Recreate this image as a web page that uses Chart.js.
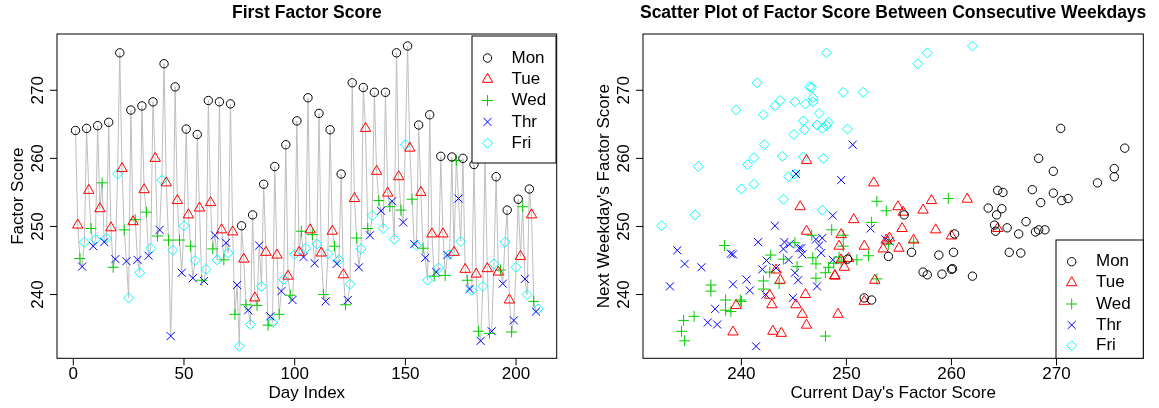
<!DOCTYPE html>
<html><head><meta charset="utf-8">
<script src="https://cdn.jsdelivr.net/npm/chart.js@4/dist/chart.umd.min.js"></script>
<style>
html,body{margin:0;padding:0;background:#fff;}
#wrap{position:relative;width:1159px;height:408px;overflow:hidden;}
#c1{position:absolute;left:0;top:0;}
#c2{position:absolute;left:580px;top:0;}
</style></head><body>
<div id="wrap"><canvas id="c1" width="580" height="408"></canvas><canvas id="c2" width="579" height="408"></canvas></div>
<script>
// ---- data: factor score per weekday, one value per week (42 weeks) ----
const weekdayNames = ['Mon','Tue','Wed','Thr','Fri'];
const mon = [264.1,264.4,264.8,265.3,275.5,267.1,267.7,268.3,273.9,270.5,264.3,263.5,268.5,268.3,268.0,250.1,251.7,256.2,258.8,262.0,265.5,268.9,266.6,264.2,257.7,271.1,270.4,269.7,269.7,275.5,276.5,264.9,266.4,260.3,260.2,260.0,259.1,260.1,257.3,252.4,254.0,255.5];
const tue = [250.2,255.3,252.6,249.8,258.5,250.7,255.4,260.0,256.4,253.8,251.7,252.7,253.5,249.5,249.2,245.2,239.5,246.2,245.8,242.7,246.2,249.5,246.1,249.3,242.9,254.1,264.4,258.1,254.9,257.3,261.5,255.0,248.9,248.9,246.2,243.7,243.0,243.8,243.3,239.2,245.6,251.7];
const wed = [245.3,249.7,256.4,244.0,249.5,251.0,252.1,248.6,248.0,248.0,247.1,242.1,246.7,245.1,237.1,238.5,238.4,235.5,237.1,239.9,249.3,248.8,240.0,247.1,238.5,248.3,249.7,253.8,252.9,252.4,254.0,246.8,242.7,242.8,259.7,242.1,234.6,234.3,243.6,234.5,252.9,239.0];
const thr = [244.1,247.1,247.7,245.2,244.9,245.1,245.7,249.5,233.9,243.2,242.4,242.0,248.7,247.6,241.4,237.7,247.2,236.8,240.5,239.2,245.5,244.6,239.0,244.5,239.2,244.0,248.7,252.3,253.7,250.6,247.4,245.4,243.3,245.8,254.1,240.8,233.2,234.6,241.6,236.2,242.3,237.5];
const fri = [247.7,248.1,248.3,257.7,239.5,243.2,246.8,256.8,246.5,250.1,245.0,243.7,245.1,246.1,232.4,235.6,241.2,235.9,242.2,245.9,246.8,247.4,246.0,245.1,241.5,246.7,251.6,249.7,248.1,262.0,247.2,242.1,243.9,245.9,247.8,240.6,241.2,244.5,247.7,244.0,240.0,237.9];
const dayTicks = [0,50,100,150,200];
const scoreTicks = [240,250,260,270];

const byDay = [mon,tue,wed,thr,fri];
const colors = ['#000000','#FF0000','#00CD00','#0000FF','#00FFFF'];
const styles = ['circle','triangle','cross','crossRot','rectRot'];
const radii = [4.2,6,5.5,5.7,5];

// daily series in time order
const series = [];
for (let w = 0; w < mon.length; w++) for (let d = 0; d < 5; d++) series.push(byDay[d][w]);

function extRange(vals){const mn=Math.min(...vals),mx=Math.max(...vals),r=mx-mn;return [mn-0.04*r,mx+0.04*r];}

const FONT = '"Liberation Sans", Arial, Helvetica, sans-serif';

function drawSym(ctx, style, x, y, r){
  ctx.beginPath();
  if (style==='circle'){ctx.arc(x,y,r,0,Math.PI*2);}
  else if (style==='triangle'){
    let a=0; ctx.moveTo(x+Math.sin(a)*r,y-Math.cos(a)*r);
    a+=2*Math.PI/3; ctx.lineTo(x+Math.sin(a)*r,y-Math.cos(a)*r);
    a+=2*Math.PI/3; ctx.lineTo(x+Math.sin(a)*r,y-Math.cos(a)*r); ctx.closePath();
  } else if (style==='cross'){ctx.moveTo(x,y-r);ctx.lineTo(x,y+r);ctx.moveTo(x-r,y);ctx.lineTo(x+r,y);}
  else if (style==='crossRot'){const o=Math.SQRT1_2*r;ctx.moveTo(x-o,y-o);ctx.lineTo(x+o,y+o);ctx.moveTo(x+o,y-o);ctx.lineTo(x-o,y+o);}
  else if (style==='rectRot'){ctx.moveTo(x-r,y);ctx.lineTo(x,y-r);ctx.lineTo(x+r,y);ctx.lineTo(x,y+r);ctx.closePath();}
  ctx.stroke();
}

const decor = {
  id:'decor',
  afterDraw(chart, args, o){
    const ctx=chart.ctx, a=chart.chartArea, xs=chart.scales.x, ys=chart.scales.y;
    ctx.save();
    ctx.strokeStyle='#000'; ctx.lineWidth=1; ctx.fillStyle='#000';
    ctx.strokeRect(a.left,a.top,a.right-a.left,a.bottom-a.top);
    ctx.font='17px '+FONT; ctx.textAlign='center'; ctx.textBaseline='middle';
    o.xticks.forEach(v=>{const p=xs.getPixelForValue(v);ctx.beginPath();ctx.moveTo(p,a.bottom);ctx.lineTo(p,a.bottom+7);ctx.stroke();ctx.fillText(String(v),p,a.bottom+16);});
    o.yticks.forEach(v=>{const p=ys.getPixelForValue(v);ctx.beginPath();ctx.moveTo(a.left-7,p);ctx.lineTo(a.left,p);ctx.stroke();
      ctx.save();ctx.translate(a.left-18.7,p);ctx.rotate(-Math.PI/2);ctx.fillText(String(v),0,0);ctx.restore();});
    const cx=(a.left+a.right)/2, cy=(a.top+a.bottom)/2;
    ctx.fillText(o.xlab,cx,a.bottom+35);
    ctx.save();ctx.translate(a.left-39,cy);ctx.rotate(-Math.PI/2);ctx.fillText(o.ylab,0,0);ctx.restore();
    ctx.font='bold 17.5px '+FONT; ctx.fillText(o.title,cx,o.titleY);
    // legend
    const L=o.legend;
    ctx.fillStyle='#fff'; ctx.fillRect(L.x0,L.y0,L.x1-L.x0,L.y1-L.y0);
    ctx.strokeStyle='#000'; ctx.strokeRect(L.x0,L.y0,L.x1-L.x0,L.y1-L.y0);
    ctx.font='17px '+FONT; ctx.textAlign='left';
    weekdayNames.forEach((n,i)=>{const y=L.rowY[i];ctx.strokeStyle=colors[i];ctx.lineWidth=1;drawSym(ctx,styles[i],L.symX,y,radii[i]);ctx.fillStyle='#000';ctx.fillText(n,L.textX,y);});
    ctx.restore();
  }
};

const baseOpts = (rx, ry, pad, dec) => ({
  responsive:false, animation:false, devicePixelRatio:1, events:[],
  layout:{padding:pad},
  scales:{x:{type:'linear',display:false,min:rx[0],max:rx[1]},y:{type:'linear',display:false,min:ry[0],max:ry[1]}},
  plugins:{legend:{display:false},tooltip:{enabled:false},title:{display:false},decor:dec}
});

function pointDS(i, data){return {label:weekdayNames[i],data,showLine:false,pointStyle:styles[i],pointRadius:radii[i],pointBorderColor:colors[i],pointBackgroundColor:'rgba(0,0,0,0)',pointBorderWidth:1,order:0};}

// left chart
const leftDS=[{label:'line',data:series.map((v,i)=>({x:i+1,y:v})),showLine:true,borderColor:'#BEBEBE',borderWidth:1,pointRadius:0,tension:0,order:10}];
byDay.forEach((arr,d)=>leftDS.push(pointDS(d,arr.map((v,w)=>({x:5*w+d+1,y:v})))));
new Chart(document.getElementById('c1'),{type:'scatter',data:{datasets:leftDS},plugins:[decor],
  options:baseOpts(extRange([1,series.length]),extRange(series),{left:57,top:34,right:23.3,bottom:49.7},
   {xticks:dayTicks,yticks:scoreTicks,xlab:'Day Index',ylab:'Factor Score',title:'First Factor Score',titleY:13,
    legend:{x0:472,y0:36,x1:556,y1:163,symX:487.5,textX:511.5,rowY:[58,79.3,100.6,121.9,143.2]}})});

// right chart: current day vs next weekday
const rightDS=[];
byDay.forEach((arr,d)=>{const pts=[];arr.forEach((v,w)=>{const t=5*w+d;if(t+1<series.length)pts.push({x:series[t],y:series[t+1]});});rightDS.push(pointDS(d,pts));});
new Chart(document.getElementById('c2'),{type:'scatter',data:{datasets:rightDS},plugins:[decor],
  options:baseOpts(extRange(series.slice(0,-1)),extRange(series.slice(1)),{left:63,top:34,right:15.7,bottom:49.7},
   {xticks:scoreTicks,yticks:scoreTicks,xlab:"Current Day's Factor Score",ylab:"Next Weekday's Factor Score",title:'Scatter Plot of Factor Score Between Consecutive Weekdays',titleY:13,
    legend:{x0:476,y0:240,x1:563.3,y1:358.3,symX:491.7,textX:516,rowY:[261.7,282.7,304,325,345.7]}})});
</script>
</body></html>
